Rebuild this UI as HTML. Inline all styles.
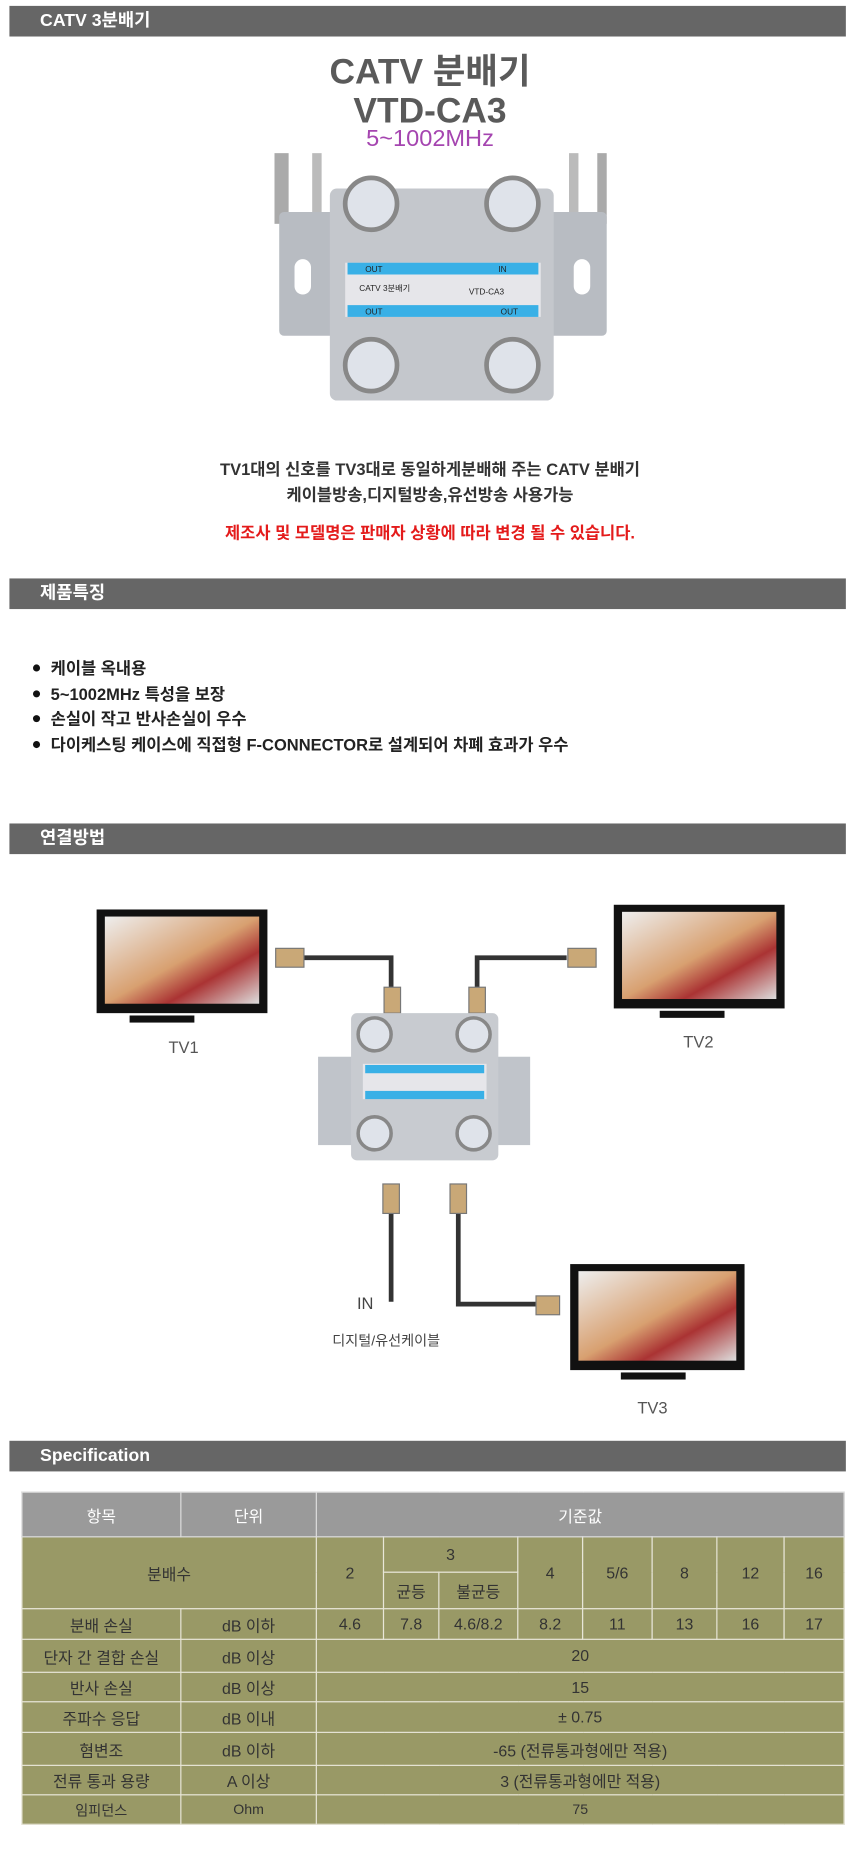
<!DOCTYPE html>
<html><head><meta charset="utf-8"><style>
*{margin:0;padding:0;box-sizing:border-box}
body{width:860px;height:1850px;overflow:hidden;background:#fff;font-family:"Liberation Sans","Noto Sans CJK KR",sans-serif}
#w{position:absolute;left:0;top:0;width:730px;height:1571px;transform:scale(1.17808);transform-origin:0 0}
.bar{position:absolute;left:8px;width:710px;height:26px;background:#666;color:#fff;font-size:15px;font-weight:bold;line-height:26px;padding-left:26px}
.t{position:absolute;width:730px;left:0;text-align:center}
ul{position:absolute;left:28px;top:557px;list-style:none;font-size:14px;font-weight:bold;color:#222}
ul li{height:21.6px;line-height:21.6px}
ul li:before{content:"";display:inline-block;width:6px;height:6px;border-radius:50%;background:#111;margin:0 9px 2px 0;vertical-align:middle}
table{position:absolute;left:18px;top:1266px;width:699px;border-collapse:collapse;font-size:13.5px;color:#333;text-align:center}
td{border:1.5px solid #e8e6d8;background:#999966;padding:0}
th{background:#9a9a9a;color:#fff;font-weight:normal;border:1px solid #ddd;height:38px}
</style></head><body><div id="w">
<div class="bar" style="top:5px">CATV 3분배기</div>
<div class="t" style="top:45px;font-size:30px;font-weight:bold;color:#5a5a5a;line-height:33px">CATV 분배기<br>VTD-CA3</div>
<div class="t" style="top:107px;font-size:20px;color:#a545b0">5~1002MHz</div>
<svg style="position:absolute;left:225px;top:125px" width="300" height="220">
<rect x="8" y="5" width="12" height="60" fill="#aaa"/><rect x="40" y="5" width="8" height="55" fill="#bbb"/>
<rect x="282" y="5" width="8" height="60" fill="#aaa"/><rect x="258" y="5" width="8" height="60" fill="#bbb"/>
<rect x="12" y="55" width="278" height="105" rx="4" fill="#b8bcc2"/>
<rect x="55" y="35" width="190" height="180" rx="6" fill="#c4c7cc"/>
<rect x="25" y="95" width="14" height="30" rx="7" fill="#fff"/><rect x="262" y="95" width="14" height="30" rx="7" fill="#fff"/>
<rect x="68" y="98" width="166" height="46" fill="#e6e6ea"/>
<rect x="70" y="98" width="162" height="10" fill="#39b0e6"/><rect x="70" y="134" width="162" height="10" fill="#39b0e6"/>
<text x="85" y="106" font-size="7" fill="#222">OUT</text><text x="198" y="106" font-size="7" fill="#222">IN</text>
<text x="85" y="142" font-size="7" fill="#222">OUT</text><text x="200" y="142" font-size="7" fill="#222">OUT</text>
<text x="80" y="122" font-size="7" fill="#222">CATV 3분배기</text><text x="173" y="125" font-size="7" fill="#222">VTD-CA3</text>
<g fill="#dfe3ea" stroke="#888" stroke-width="4"><circle cx="90" cy="48" r="22"/><circle cx="210" cy="48" r="22"/><circle cx="90" cy="185" r="22"/><circle cx="210" cy="185" r="22"/></g>
</svg>
<div class="t" style="top:387px;font-size:14px;font-weight:bold;color:#333;line-height:22px">TV1대의 신호를 TV3대로 동일하게분배해 주는 CATV 분배기<br>케이블방송,디지털방송,유선방송 사용가능</div>
<div class="t" style="top:442px;font-size:14px;font-weight:bold;color:#e41b1b">제조사 및 모델명은 판매자 상황에 따라 변경 될 수 있습니다.</div>
<div class="bar" style="top:491px">제품특징</div>
<ul><li>케이블 옥내용</li><li>5~1002MHz 특성을 보장</li><li>손실이 작고 반사손실이 우수</li><li>다이케스팅 케이스에 직접형 F-CONNECTOR로 설계되어 차폐 효과가 우수</li></ul>
<div class="bar" style="top:699px">연결방법</div>
<svg style="position:absolute;left:0;top:740px" width="730" height="470" font-family="Liberation Sans,Noto Sans CJK KR,sans-serif">
<defs><linearGradient id="s" x1="0" y1="0" x2="1" y2="1"><stop offset="0" stop-color="#eee"/><stop offset=".5" stop-color="#d8a070"/><stop offset=".7" stop-color="#a33"/><stop offset="1" stop-color="#ddd"/></linearGradient></defs>
<g><rect x="82" y="32" width="145" height="88" fill="#111"/><rect x="89" y="38" width="131" height="74" fill="url(#s)"/><rect x="110" y="122" width="55" height="6" fill="#111"/></g>
<g><rect x="521" y="28" width="145" height="88" fill="#111"/><rect x="528" y="34" width="131" height="74" fill="url(#s)"/><rect x="560" y="118" width="55" height="6" fill="#111"/></g>
<g><rect x="484" y="333" width="148" height="90" fill="#111"/><rect x="491" y="339" width="134" height="76" fill="url(#s)"/><rect x="527" y="425" width="55" height="6" fill="#111"/></g>
<text x="143" y="154" font-size="14" fill="#555">TV1</text><text x="580" y="149" font-size="14" fill="#555">TV2</text><text x="541" y="460" font-size="14" fill="#555">TV3</text>
<g fill="none" stroke="#333" stroke-width="4"><path d="M258 73H332V98"/><path d="M481 73H405V98"/><path d="M332 290V365"/><path d="M389 290V367H455"/></g>
<g fill="#c9a877" stroke="#777"><rect x="234" y="65" width="24" height="16"/><rect x="482" y="65" width="24" height="16"/><rect x="326" y="98" width="14" height="22"/><rect x="398" y="98" width="14" height="22"/><rect x="325" y="265" width="14" height="25"/><rect x="382" y="265" width="14" height="25"/><rect x="455" y="360" width="20" height="16"/></g>
<rect x="270" y="157" width="180" height="75" fill="#c0c4ca"/><rect x="298" y="120" width="125" height="125" rx="5" fill="#c8cbd0"/>
<rect x="308" y="163" width="105" height="30" fill="#e6e6ea"/><rect x="310" y="164" width="101" height="7" fill="#39b0e6"/><rect x="310" y="186" width="101" height="7" fill="#39b0e6"/>
<g fill="#dfe3ea" stroke="#888" stroke-width="3"><circle cx="318" cy="138" r="14"/><circle cx="402" cy="138" r="14"/><circle cx="318" cy="222" r="14"/><circle cx="402" cy="222" r="14"/></g>
<text x="303" y="371" font-size="14" fill="#444">IN</text><text x="282" y="402" font-size="12" fill="#444">디지털/유선케이블</text>
</svg>
<div class="bar" style="top:1223px">Specification</div>
<table>
<tr><th style="width:135px">항목</th><th style="width:115px">단위</th><th colspan="9">기준값</th></tr>
<tr style="height:30px"><td colspan="2" rowspan="2">분배수</td><td rowspan="2" style="width:57px">2</td><td colspan="2">3</td><td rowspan="2" style="width:55px">4</td><td rowspan="2" style="width:59px">5/6</td><td rowspan="2" style="width:55px">8</td><td rowspan="2" style="width:57px">12</td><td rowspan="2">16</td></tr>
<tr style="height:31px"><td style="width:47px">균등</td><td style="width:67px">불균등</td></tr>
<tr style="height:26px"><td>분배 손실</td><td>dB 이하</td><td>4.6</td><td>7.8</td><td>4.6/8.2</td><td>8.2</td><td>11</td><td>13</td><td>16</td><td>17</td></tr>
<tr style="height:28px"><td>단자 간 결합 손실</td><td>dB 이상</td><td colspan="9">20</td></tr>
<tr style="height:25px"><td>반사 손실</td><td>dB 이상</td><td colspan="9">15</td></tr>
<tr style="height:26px"><td>주파수 응답</td><td>dB 이내</td><td colspan="9">± 0.75</td></tr>
<tr style="height:28px"><td>혐변조</td><td>dB 이하</td><td colspan="9">-65 (전류통과형에만 적용)</td></tr>
<tr style="height:25px"><td>전류 통과 용량</td><td>A 이상</td><td colspan="9">3 (전류통과형에만 적용)</td></tr>
<tr style="height:25px;font-size:12px"><td>임피던스</td><td>Ohm</td><td colspan="9">75</td></tr>
</table>
</div></body></html>
